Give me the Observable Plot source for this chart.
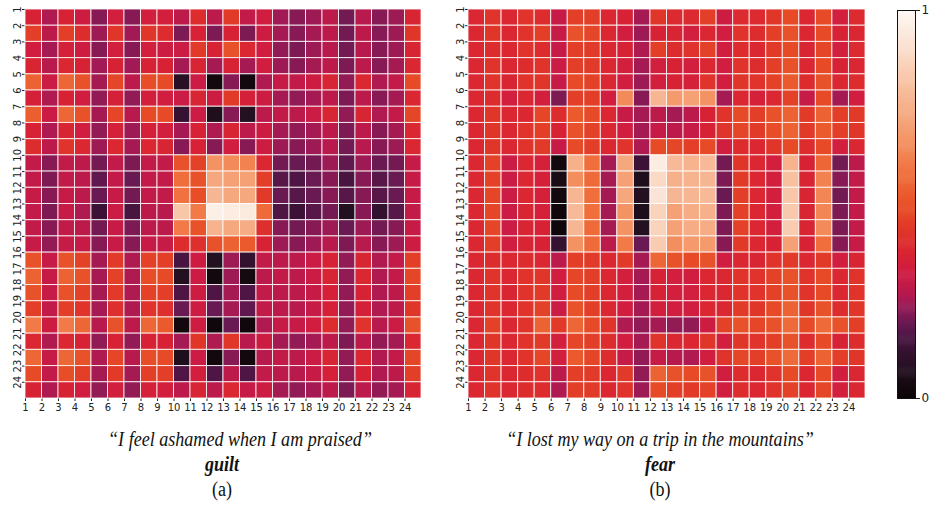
<!DOCTYPE html>
<html>
<head>
<meta charset="utf-8">
<script src="https://cdn.jsdelivr.net/npm/d3@7"></script>
<script src="https://cdn.jsdelivr.net/npm/@observablehq/plot@0.6"></script>
<style>
  html, body { margin: 0; padding: 0; background: #fff; }
  #wrap { position: relative; width: 932px; height: 506px; overflow: hidden; background: #fff; }
  #wrap > div.p { position: absolute; top: 0; }
  .cap { position: absolute; font-family: "Liberation Serif", "Times New Roman", serif; color: #111; text-align: center; white-space: nowrap; }
  .q { font-style: italic; font-size: 21px; transform: scaleX(0.86); }
  .e { font-style: italic; font-weight: bold; font-size: 20px; transform: scaleX(0.9); }
  .l { font-size: 20px; transform: scaleX(0.9); }
</style>
</head>
<body>
<div id="wrap">
  <div class="p" id="pa" style="left:0px"></div>
  <div class="p" id="pb" style="left:440px"></div>
  <div class="p" id="pc" style="left:880px"></div>
</div>
<script>
// ---- data ----
const tickLabels = [1,2,3,4,5,6,7,8,9,10,11,12,13,14,15,16,17,18,19,20,21,22,23,24];
const colorbarTicks = [0, 1];

const captionA = "\u201CI feel ashamed when I am praised\u201D";
const emotionA = "guilt";
const panelA = "(a)";
const captionB = "\u201CI lost my way on a trip in the mountains\u201D";
const emotionB = "fear";
const panelB = "(b)";

// attention map (a): rows 1..24, columns 1..24
const guilt = [
  [0.36,0.26,0.36,0.32,0.22,0.34,0.22,0.34,0.34,0.28,0.40,0.28,0.44,0.29,0.33,0.245,0.22,0.24,0.28,0.20,0.27,0.22,0.24,0.37],
  [0.45,0.28,0.45,0.40,0.24,0.43,0.245,0.43,0.40,0.21,0.36,0.21,0.36,0.21,0.32,0.25,0.22,0.25,0.28,0.20,0.28,0.22,0.24,0.43],
  [0.33,0.25,0.35,0.32,0.22,0.34,0.22,0.34,0.32,0.31,0.44,0.36,0.50,0.38,0.33,0.23,0.21,0.24,0.27,0.20,0.27,0.22,0.24,0.37],
  [0.37,0.27,0.38,0.36,0.245,0.36,0.245,0.36,0.36,0.25,0.37,0.25,0.36,0.25,0.33,0.24,0.22,0.25,0.28,0.21,0.28,0.22,0.25,0.38],
  [0.54,0.31,0.55,0.50,0.25,0.47,0.28,0.49,0.48,0.08,0.31,0.02,0.22,0.02,0.26,0.30,0.29,0.32,0.37,0.23,0.38,0.26,0.29,0.48],
  [0.35,0.26,0.36,0.33,0.23,0.35,0.23,0.34,0.33,0.31,0.37,0.32,0.44,0.35,0.32,0.25,0.23,0.25,0.28,0.21,0.28,0.22,0.25,0.38],
  [0.53,0.31,0.55,0.50,0.25,0.47,0.27,0.48,0.48,0.12,0.31,0.06,0.22,0.07,0.28,0.29,0.28,0.31,0.37,0.23,0.37,0.26,0.29,0.47],
  [0.36,0.26,0.37,0.33,0.23,0.35,0.24,0.35,0.34,0.25,0.36,0.26,0.37,0.28,0.32,0.25,0.23,0.25,0.28,0.21,0.28,0.22,0.25,0.38],
  [0.40,0.28,0.42,0.38,0.24,0.38,0.25,0.38,0.37,0.22,0.36,0.22,0.33,0.22,0.32,0.24,0.22,0.24,0.27,0.20,0.27,0.22,0.24,0.38],
  [0.29,0.22,0.29,0.28,0.20,0.29,0.21,0.29,0.29,0.50,0.46,0.66,0.64,0.62,0.38,0.20,0.19,0.20,0.24,0.18,0.24,0.19,0.20,0.30],
  [0.29,0.21,0.29,0.28,0.18,0.29,0.19,0.29,0.29,0.57,0.50,0.72,0.70,0.70,0.45,0.17,0.16,0.19,0.22,0.15,0.22,0.17,0.19,0.30],
  [0.30,0.22,0.30,0.28,0.19,0.30,0.20,0.29,0.29,0.58,0.49,0.77,0.72,0.72,0.44,0.19,0.17,0.19,0.22,0.17,0.22,0.17,0.19,0.30],
  [0.29,0.21,0.30,0.26,0.13,0.31,0.15,0.28,0.27,0.82,0.60,0.96,0.95,0.94,0.56,0.16,0.13,0.17,0.20,0.07,0.22,0.11,0.17,0.29],
  [0.29,0.22,0.29,0.28,0.20,0.30,0.21,0.28,0.28,0.60,0.50,0.76,0.72,0.74,0.41,0.22,0.20,0.22,0.24,0.19,0.24,0.20,0.22,0.30],
  [0.30,0.23,0.30,0.30,0.22,0.30,0.22,0.30,0.30,0.40,0.41,0.50,0.54,0.52,0.36,0.24,0.22,0.24,0.27,0.21,0.27,0.22,0.24,0.32],
  [0.50,0.30,0.50,0.46,0.25,0.44,0.26,0.46,0.45,0.15,0.32,0.07,0.24,0.11,0.29,0.28,0.28,0.31,0.36,0.23,0.37,0.26,0.29,0.45],
  [0.54,0.30,0.54,0.50,0.25,0.46,0.26,0.49,0.48,0.07,0.31,0.02,0.24,0.03,0.28,0.29,0.28,0.31,0.37,0.23,0.38,0.26,0.29,0.47],
  [0.50,0.30,0.50,0.46,0.25,0.44,0.26,0.46,0.45,0.16,0.32,0.16,0.25,0.16,0.29,0.28,0.28,0.30,0.35,0.23,0.36,0.26,0.28,0.45],
  [0.45,0.29,0.45,0.42,0.25,0.41,0.26,0.42,0.41,0.19,0.32,0.19,0.25,0.18,0.29,0.28,0.27,0.30,0.35,0.23,0.35,0.26,0.28,0.43],
  [0.60,0.32,0.60,0.55,0.27,0.50,0.28,0.55,0.52,0.02,0.32,0.01,0.19,0.01,0.26,0.30,0.30,0.33,0.40,0.23,0.42,0.27,0.31,0.50],
  [0.38,0.26,0.38,0.36,0.23,0.36,0.23,0.36,0.36,0.25,0.43,0.26,0.43,0.27,0.32,0.25,0.23,0.25,0.28,0.21,0.28,0.23,0.25,0.38],
  [0.55,0.30,0.55,0.50,0.26,0.47,0.27,0.49,0.48,0.06,0.31,0.02,0.22,0.02,0.27,0.29,0.28,0.31,0.37,0.23,0.38,0.26,0.29,0.47],
  [0.48,0.29,0.49,0.45,0.25,0.44,0.25,0.45,0.45,0.16,0.34,0.16,0.28,0.16,0.29,0.28,0.27,0.30,0.35,0.23,0.36,0.26,0.28,0.45],
  [0.36,0.26,0.36,0.33,0.23,0.34,0.23,0.35,0.34,0.28,0.37,0.28,0.38,0.30,0.32,0.25,0.23,0.25,0.28,0.21,0.28,0.23,0.25,0.37]
];

// attention map (b): rows 1..24, columns 1..24
const fear = [
  [0.38,0.42,0.38,0.42,0.40,0.30,0.45,0.45,0.38,0.36,0.25,0.43,0.39,0.39,0.45,0.32,0.39,0.39,0.43,0.48,0.38,0.48,0.34,0.39],
  [0.38,0.43,0.38,0.42,0.45,0.30,0.50,0.47,0.38,0.33,0.24,0.36,0.37,0.34,0.38,0.33,0.42,0.40,0.45,0.50,0.38,0.48,0.36,0.38],
  [0.38,0.40,0.38,0.42,0.40,0.30,0.45,0.44,0.38,0.36,0.26,0.45,0.40,0.42,0.46,0.33,0.40,0.38,0.44,0.48,0.37,0.47,0.34,0.39],
  [0.38,0.42,0.38,0.40,0.42,0.31,0.45,0.44,0.38,0.34,0.25,0.34,0.36,0.34,0.38,0.33,0.42,0.40,0.45,0.50,0.38,0.48,0.36,0.38],
  [0.38,0.42,0.37,0.42,0.43,0.30,0.48,0.46,0.38,0.33,0.24,0.34,0.36,0.35,0.42,0.33,0.43,0.42,0.46,0.52,0.40,0.50,0.38,0.40],
  [0.38,0.40,0.34,0.38,0.34,0.21,0.45,0.45,0.33,0.64,0.22,0.77,0.68,0.70,0.66,0.25,0.38,0.35,0.38,0.46,0.30,0.48,0.25,0.33],
  [0.38,0.43,0.38,0.38,0.47,0.40,0.52,0.48,0.38,0.30,0.25,0.28,0.25,0.28,0.36,0.42,0.48,0.45,0.50,0.54,0.44,0.54,0.45,0.44],
  [0.38,0.43,0.38,0.42,0.45,0.36,0.50,0.46,0.38,0.33,0.25,0.30,0.28,0.30,0.36,0.42,0.47,0.44,0.49,0.54,0.44,0.52,0.45,0.43],
  [0.38,0.43,0.38,0.42,0.44,0.30,0.48,0.45,0.38,0.42,0.26,0.48,0.47,0.45,0.48,0.33,0.40,0.38,0.43,0.48,0.40,0.48,0.34,0.38],
  [0.38,0.46,0.31,0.38,0.35,0.02,0.75,0.57,0.25,0.72,0.13,0.95,0.78,0.76,0.78,0.20,0.43,0.38,0.34,0.76,0.36,0.55,0.20,0.28],
  [0.38,0.46,0.31,0.38,0.35,0.04,0.65,0.56,0.25,0.70,0.06,0.88,0.75,0.76,0.77,0.21,0.44,0.38,0.34,0.80,0.37,0.62,0.22,0.29],
  [0.38,0.47,0.31,0.38,0.35,0.02,0.77,0.57,0.25,0.72,0.07,0.92,0.77,0.77,0.78,0.19,0.45,0.38,0.34,0.82,0.37,0.63,0.20,0.29],
  [0.38,0.47,0.31,0.37,0.35,0.01,0.78,0.57,0.25,0.66,0.06,0.86,0.70,0.74,0.75,0.21,0.46,0.38,0.34,0.83,0.37,0.63,0.21,0.29],
  [0.38,0.47,0.31,0.37,0.36,0.01,0.77,0.56,0.25,0.66,0.07,0.86,0.70,0.74,0.74,0.21,0.46,0.38,0.34,0.84,0.37,0.64,0.21,0.29],
  [0.38,0.45,0.33,0.37,0.36,0.12,0.66,0.56,0.28,0.60,0.19,0.84,0.65,0.68,0.68,0.22,0.44,0.38,0.36,0.70,0.36,0.57,0.22,0.30],
  [0.38,0.40,0.38,0.40,0.38,0.28,0.45,0.44,0.38,0.44,0.25,0.55,0.50,0.48,0.50,0.33,0.38,0.37,0.42,0.44,0.38,0.44,0.33,0.37],
  [0.38,0.42,0.38,0.42,0.43,0.33,0.47,0.45,0.38,0.34,0.25,0.36,0.34,0.33,0.38,0.38,0.42,0.42,0.46,0.50,0.42,0.48,0.38,0.42],
  [0.38,0.42,0.37,0.42,0.44,0.33,0.48,0.45,0.38,0.34,0.25,0.36,0.34,0.34,0.38,0.38,0.42,0.42,0.46,0.50,0.42,0.48,0.38,0.42],
  [0.38,0.42,0.38,0.42,0.46,0.31,0.50,0.45,0.38,0.33,0.25,0.34,0.33,0.33,0.38,0.38,0.44,0.43,0.48,0.54,0.43,0.50,0.40,0.43],
  [0.38,0.46,0.38,0.42,0.54,0.44,0.55,0.48,0.42,0.26,0.23,0.25,0.23,0.23,0.32,0.46,0.50,0.47,0.50,0.56,0.48,0.56,0.50,0.45],
  [0.38,0.43,0.38,0.42,0.44,0.34,0.47,0.45,0.40,0.33,0.25,0.42,0.38,0.38,0.43,0.34,0.43,0.42,0.45,0.50,0.40,0.48,0.36,0.40],
  [0.38,0.43,0.38,0.42,0.47,0.34,0.52,0.47,0.40,0.30,0.23,0.30,0.27,0.26,0.33,0.42,0.47,0.45,0.50,0.56,0.45,0.54,0.45,0.43],
  [0.38,0.42,0.38,0.40,0.42,0.28,0.45,0.44,0.38,0.44,0.23,0.54,0.50,0.48,0.50,0.33,0.40,0.38,0.42,0.48,0.38,0.48,0.33,0.38],
  [0.38,0.42,0.38,0.40,0.40,0.26,0.45,0.44,0.38,0.42,0.24,0.48,0.45,0.44,0.46,0.33,0.40,0.38,0.42,0.46,0.38,0.47,0.34,0.38]
];

// colour map (value stops and colours)
const stopValues = [0, 0.03, 0.07, 0.12, 0.16, 0.19, 0.22, 0.245, 0.27, 0.30, 0.33, 0.36, 0.40, 0.44, 0.48, 0.52, 0.56, 0.62, 0.68, 0.75, 0.82, 0.90, 0.96, 1];
const stopColors = ["#0c0508", "#150a10", "#231020", "#361232", "#4e1545", "#6a1a52", "#871a55", "#a21a55", "#b81a4e", "#c71b47", "#d01d40", "#d72236", "#dc2c2e", "#e13a28", "#e64a27", "#ea5a2c", "#ee6a38", "#f28250", "#f49a6c", "#f6b08a", "#f8c6a8", "#fadfcf", "#fcefe6", "#fff8f4"];

// ---- build ----
const colorScale = {type: "linear", domain: stopValues, range: stopColors, interpolate: "rgb"};

function toCells(m) {
  return m.flatMap((row, i) => row.map((v, j) => ({row: i + 1, col: j + 1, value: v})));
}

function heat(matrix, width, ml, mr) {
  return Plot.plot({
    width, height: 420,
    marginLeft: ml, marginRight: mr, marginTop: 9, marginBottom: 22,
    style: {fontFamily: "'DejaVu Sans', sans-serif", fontSize: "10px", color: "#222", background: "white"},
    x: {type: "linear", domain: [1, 25], ticks: tickLabels, tickFormat: d => String(d), tickSize: 3, tickPadding: 2, label: null},
    y: {type: "linear", domain: [1, 25], reverse: true, ticks: tickLabels, tickFormat: d => String(d), tickSize: 3, tickPadding: 2, tickRotate: -90, label: null},
    color: colorScale,
    marks: [
      Plot.rect(toCells(matrix), {
        x1: "col", x2: d => d.col + 1, y1: "row", y2: d => d.row + 1,
        fill: "value", stroke: "#ffffff", strokeWidth: 1, strokeOpacity: 0.8, inset: 0
      })
    ]
  });
}

document.getElementById("pa").appendChild(heat(guilt, 430, 25, 9));
document.getElementById("pb").appendChild(heat(fear, 432, 28, 7));

// colour bar
const steps = d3.range(0, 1, 0.0025);
const cbar = Plot.plot({
  width: 52, height: 420,
  marginLeft: 17, marginRight: 17, marginTop: 10, marginBottom: 22,
  style: {fontFamily: "'DejaVu Sans', sans-serif", fontSize: "12px", color: "#222", background: "white"},
  x: {domain: [0, 1], axis: null},
  y: {domain: [0, 1], ticks: colorbarTicks, tickFormat: d => String(d), axis: "right", tickSize: 4, tickPadding: 2, label: null},
  color: colorScale,
  marks: [
    Plot.rect(steps, {x1: 0, x2: 1, y1: d => d, y2: d => Math.min(1, d + 0.004), fill: d => d}),
    Plot.frame({stroke: "#111", strokeWidth: 1})
  ]
});
document.getElementById("pc").appendChild(cbar);

// captions
function cap(text, cls, cx, y) {
  const d = document.createElement("div");
  d.className = "cap " + cls;
  d.textContent = text;
  d.style.left = (cx - 300) + "px";
  d.style.width = "600px";
  d.style.top = y + "px";
  document.getElementById("wrap").appendChild(d);
}
cap(captionA, "q", 240, 427);
cap(emotionA, "e", 222, 453);
cap(panelA, "l", 222, 478);
cap(captionB, "q", 660, 427);
cap(emotionB, "e", 660, 453);
cap(panelB, "l", 660, 478);
</script>
</body>
</html>
